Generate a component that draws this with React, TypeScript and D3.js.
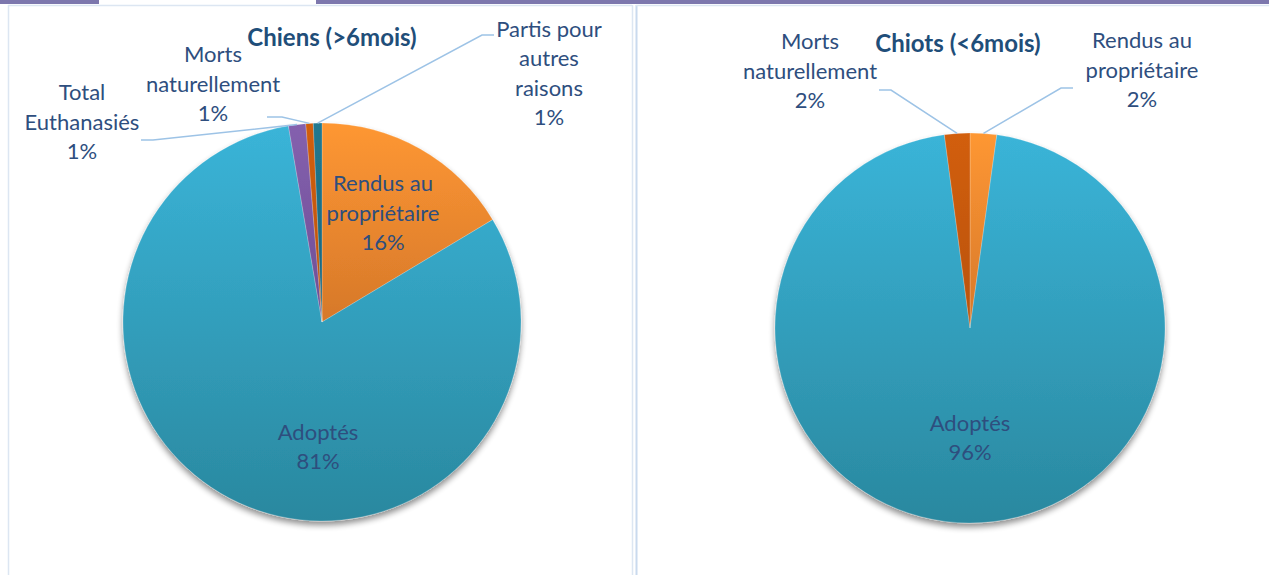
import React from "react";
import * as d3 from "d3";

// ---- data ----
const chiensCategories = ["Rendus au propriétaire", "Adoptés", "Total Euthanasiés", "Morts naturellement", "Partis pour autres raisons"];
const chiensValues = [16.4, 80.9, 1.4, 0.6, 0.7];
const chiotsCategories = ["Rendus au propriétaire", "Adoptés", "Morts naturellement"];
const chiotsValues = [2.2, 95.7, 2.1];
const chartTitles = ["Chiens (>6mois)", "Chiots (<6mois)"];

// ---- styles / layout ----
const sliceColors: Record<string, [string, string]> = {
  "Rendus au propriétaire": ["#FE9733", "#D6782A"],
  "Adoptés": ["#3AB4D8", "#2A889F"],
  "Total Euthanasiés": ["#8460AE", "#6E4E95"],
  "Morts naturellement": ["#D25E0F", "#B9530C"],
  "Partis pour autres raisons": ["#21788F", "#1A6378"],
};
const labelLines: Record<string, string[]> = {
  "Rendus au propriétaire": ["Rendus au", "propriétaire"],
  "Adoptés": ["Adoptés"],
  "Total Euthanasiés": ["Total", "Euthanasiés"],
  "Morts naturellement": ["Morts", "naturellement"],
  "Partis pour autres raisons": ["Partis pour", "autres", "raisons"],
};

type LabelLayout = { cx: number; cy: number; leader?: [number, number, number, number] };
const chiensLayout: LabelLayout[] = [
  { cx: 383, cy: 212 },
  { cx: 318, cy: 446 },
  { cx: 82, cy: 121, leader: [141, 140, 153, 140] },
  { cx: 213, cy: 83, leader: [267, 117, 282, 117] },
  { cx: 549, cy: 72.5, leader: [494, 35, 482, 35] },
];
const chiotsLayout: LabelLayout[] = [
  { cx: 1142, cy: 69, leader: [1073, 88, 1061, 88] },
  { cx: 970, cy: 437 },
  { cx: 810, cy: 70, leader: [879, 90, 891, 90] },
];

const FONT = "Lato, 'Open Sans', sans-serif";
const LABEL_COLOR = "#2E4E7E";
const TITLE_COLOR = "#1F4E79";
const LEADER_COLOR = "#9DC3E6";
const LINE_H = 29.5;

type PieProps = {
  id: string;
  categories: string[];
  values: number[];
  cx: number;
  cy: number;
  r: number;
  layout: LabelLayout[];
};

function Pie({ id, categories, values, cx, cy, r, layout }: PieProps) {
  const pie = d3.pie<number>().sort(null).value((d) => d);
  const arcs = pie(values);
  const arc = d3.arc<d3.PieArcDatum<number>>().innerRadius(0).outerRadius(r);
  const total = d3.sum(values);
  return (
    <g>
      <defs>
        {categories.map((c, i) => (
          <linearGradient key={c} id={`${id}-g${i}`} x1="0" y1="0" x2="0" y2="1">
            <stop offset="0" stopColor={sliceColors[c][0]} />
            <stop offset="1" stopColor={sliceColors[c][1]} />
          </linearGradient>
        ))}
      </defs>
      <g transform={`translate(${cx},${cy})`} filter="url(#pieShadow)">
        {arcs.map((a, i) => (
          <path key={i} d={arc(a) || ""} fill={`url(#${id}-g${i})`} stroke="#ffffff" strokeOpacity={0.35} strokeWidth={0.6} />
        ))}
      </g>
      {arcs.map((a, i) => {
        const L = layout[i];
        if (!L.leader) return null;
        const mid = (a.startAngle + a.endAngle) / 2;
        const ex = cx + r * Math.sin(mid);
        const ey = cy - r * Math.cos(mid);
        const [x0, y0, x1, y1] = L.leader;
        return (
          <polyline key={`l${i}`} points={`${x0},${y0} ${x1},${y1} ${ex},${ey}`} fill="none" stroke={LEADER_COLOR} strokeWidth={1.5} />
        );
      })}
      {arcs.map((a, i) => {
        const L = layout[i];
        const lines = [...labelLines[categories[i]], `${Math.round((values[i] / total) * 100)}%`];
        const top = L.cy - ((lines.length - 1) * LINE_H) / 2;
        return (
          <text key={`t${i}`} textAnchor="middle" fontFamily={FONT} fontSize={22} fill={LABEL_COLOR}>
            {lines.map((s, k) => (
              <tspan key={k} x={L.cx} y={top + k * LINE_H} dominantBaseline="central">
                {s}
              </tspan>
            ))}
          </text>
        );
      })}
    </g>
  );
}

export default function App() {
  const W = 1269;
  const H = 575;
  return (
    <svg width={W} height={H} style={{ position: "absolute", left: 0, top: 0, background: "#ffffff" }}>
      <defs>
        <filter id="pieShadow" x="-20%" y="-20%" width="140%" height="140%">
          <feGaussianBlur in="SourceAlpha" stdDeviation="3" />
          <feOffset dx="0" dy="4" result="ob" />
          <feComponentTransfer>
            <feFuncA type="linear" slope="0.45" />
          </feComponentTransfer>
          <feMerge>
            <feMergeNode />
            <feMergeNode in="SourceGraphic" />
          </feMerge>
        </filter>
      </defs>
      <rect x={0} y={0} width={W} height={H} fill="#ffffff" />
      {/* top bar */}
      <rect x={0} y={0} width={99} height={4} fill="#7D77AD" />
      <rect x={316} y={0} width={W - 316} height={4} fill="#7D77AD" />
      {/* panel borders */}
      <line x1={8.5} y1={5} x2={8.5} y2={H} stroke="#DCE6F2" strokeWidth={1.5} />
      <line x1={8} y1={5.5} x2={632} y2={5.5} stroke="#DCE6F2" strokeWidth={1.5} />
      <line x1={632.5} y1={5} x2={632.5} y2={H} stroke="#DCE6F2" strokeWidth={1.5} />
      <line x1={636.5} y1={5} x2={636.5} y2={H} stroke="#C9DAEE" strokeWidth={2} />
      <line x1={636} y1={5.5} x2={W} y2={5.5} stroke="#DCE6F2" strokeWidth={1.5} />

      <Pie id="chiens" categories={chiensCategories} values={chiensValues} cx={322} cy={322} r={199} layout={chiensLayout} />
      <Pie id="chiots" categories={chiotsCategories} values={chiotsValues} cx={970} cy={328} r={195} layout={chiotsLayout} />

      <text x={332} y={36} textAnchor="middle" dominantBaseline="central" fontFamily={FONT} fontWeight="bold" fontSize={24} fill={TITLE_COLOR}>
        {chartTitles[0]}
      </text>
      <text x={958} y={42} textAnchor="middle" dominantBaseline="central" fontFamily={FONT} fontWeight="bold" fontSize={24} fill={TITLE_COLOR}>
        {chartTitles[1]}
      </text>
    </svg>
  );
}
